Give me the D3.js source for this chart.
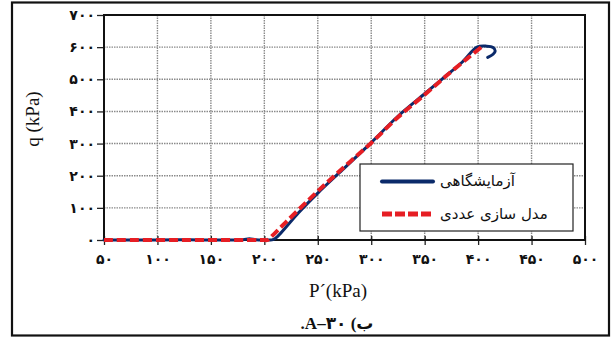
<!DOCTYPE html>
<html>
<head>
<meta charset="utf-8">
<script src="https://cdn.jsdelivr.net/npm/d3@7"></script>
<style>
  html, body { margin: 0; padding: 0; background: #fff; }
  svg { display: block; }
</style>
</head>
<body>
<svg id="chart" width="614" height="338"></svg>
<script>
// ---- data ----
const xTicks = [50, 100, 150, 200, 250, 300, 350, 400, 450, 500];
const yTicks = [0, 100, 200, 300, 400, 500, 600, 700];

const expP = [50, 100, 130, 160, 180, 186, 192, 200, 205, 208, 212, 232, 250, 273, 300, 325, 350, 366, 385, 399, 408, 414, 416, 414, 409];
const expQ = [0, 0, 0.5, 0, 1, 4, 1, 0, 0, 1, 10, 85, 146, 218, 303, 385, 455, 500, 553, 600, 603, 599, 588, 578, 568];

const modelP = [50, 120, 190, 200, 203, 207, 220, 240, 260, 280, 300, 325, 350, 370, 390, 403];
const modelQ = [0, 0, 0, 0, 0, 12, 55, 120, 183, 243, 302, 382, 452, 510, 565, 600];

const seriesNames = ["آزمایشگاهی", "مدل سازی عددی"];
const xTitle = "P\u00B4(kPa)";
const yTitle = "q (kPa)";
const caption = ".A\u2013\u06F3\u06F0 (\u0628";

const blue = "#0b2a6a";
const red = "#e61e24";

// ---- helpers ----
const fa = n => String(n).replace(/[0-9]/g, d => String.fromCharCode(0x06F0 + +d));

const svg = d3.select("#chart");
const L = 104, R = 585, T = 15, B = 240;
const x = d3.scaleLinear().domain([50, 500]).range([L, R]);
const y = d3.scaleLinear().domain([0, 700]).range([B, T]);

const serif = "'Liberation Serif', 'Times New Roman', serif";

// outer frame
svg.append("rect").attr("x", 12).attr("y", 2.5).attr("width", 597).attr("height", 333)
  .attr("fill", "none").attr("stroke", "#111").attr("stroke-width", 2.2);

// grid
const grid = svg.append("g").attr("stroke", "#8a8a8a").attr("stroke-width", 1.4).attr("stroke-dasharray", "1.5,1");
grid.selectAll(".gx").data(xTicks.slice(1, -1)).join("line")
  .attr("x1", d => x(d)).attr("x2", d => x(d)).attr("y1", T).attr("y2", B);
grid.selectAll(".gy").data(yTicks.slice(1, -1)).join("line")
  .attr("y1", d => y(d)).attr("y2", d => y(d)).attr("x1", L).attr("x2", R);

// axes
const fontNum = "'DejaVu Sans', 'Noto Sans', sans-serif";
const xAxis = svg.append("g").attr("transform", `translate(0,${B})`)
  .call(d3.axisBottom(x).tickValues(xTicks).tickFormat(fa).tickSizeInner(5).tickSizeOuter(0).tickPadding(9));
xAxis.select(".domain").remove();
xAxis.selectAll(".tick line").attr("stroke", "#222").attr("stroke-width", 1.3).attr("y1", -4);
xAxis.selectAll(".tick text").attr("font-family", fontNum).attr("font-size", 14).attr("font-weight", "bold").attr("fill", "#111");

const yAxis = svg.append("g").attr("transform", `translate(${L},0)`)
  .call(d3.axisLeft(y).tickValues(yTicks).tickFormat(fa).tickSizeInner(7).tickSizeOuter(0).tickPadding(2));
yAxis.select(".domain").remove();
yAxis.selectAll(".tick line").attr("stroke", "#222").attr("stroke-width", 1.3);
yAxis.selectAll(".tick text").attr("font-family", fontNum).attr("font-size", 14).attr("font-weight", "bold").attr("fill", "#111");

// plot border
svg.append("rect").attr("x", L).attr("y", T).attr("width", R - L).attr("height", B - T)
  .attr("fill", "none").attr("stroke", "#111").attr("stroke-width", 2);

// lines
const line = d3.line().x(d => x(d[0])).y(d => y(d[1])).curve(d3.curveCatmullRom.alpha(0.5));
svg.append("path").datum(d3.zip(expP, expQ)).attr("d", line)
  .attr("fill", "none").attr("stroke", blue).attr("stroke-width", 3).attr("stroke-linejoin", "round").attr("stroke-linecap", "round");
svg.append("path").datum(d3.zip(modelP, modelQ)).attr("d", line)
  .attr("fill", "none").attr("stroke", red).attr("stroke-width", 4).attr("stroke-dasharray", "9,4");

// legend
const lg = svg.append("g");
lg.append("rect").attr("x", 360).attr("y", 164).attr("width", 213).attr("height", 67)
  .attr("fill", "#fff").attr("stroke", "#222").attr("stroke-width", 1.2);
lg.append("line").attr("x1", 382).attr("x2", 433).attr("y1", 181.5).attr("y2", 181.5)
  .attr("stroke", blue).attr("stroke-width", 4).attr("stroke-linecap", "round");
lg.append("line").attr("x1", 382).attr("x2", 433).attr("y1", 214).attr("y2", 214)
  .attr("stroke", red).attr("stroke-width", 5).attr("stroke-dasharray", "10,3");
lg.selectAll("text.lab").data(seriesNames).join("text")
  .attr("x", 440).attr("y", (d, i) => 186 + i * 32.5)
  .attr("font-family", "'DejaVu Serif', 'DejaVu Sans', serif").attr("font-size", 15).attr("fill", "#111")
  .text(d => d);

// titles
svg.append("text").attr("transform", `translate(39,${119}) rotate(-90)`).attr("text-anchor", "middle")
  .attr("font-family", serif).attr("font-size", 19).attr("fill", "#111").text(yTitle);
svg.append("text").attr("x", 338).attr("y", 297).attr("text-anchor", "middle")
  .attr("font-family", serif).attr("font-size", 19).attr("fill", "#111").text(xTitle);
svg.append("text").attr("x", 337).attr("y", 329).attr("text-anchor", "middle")
  .attr("font-family", serif + ", 'DejaVu Sans'").attr("font-size", 17).attr("font-weight", "bold")
  .attr("fill", "#111").style("direction", "ltr").style("unicode-bidi", "bidi-override").text(caption);
</script>
</body>
</html>
